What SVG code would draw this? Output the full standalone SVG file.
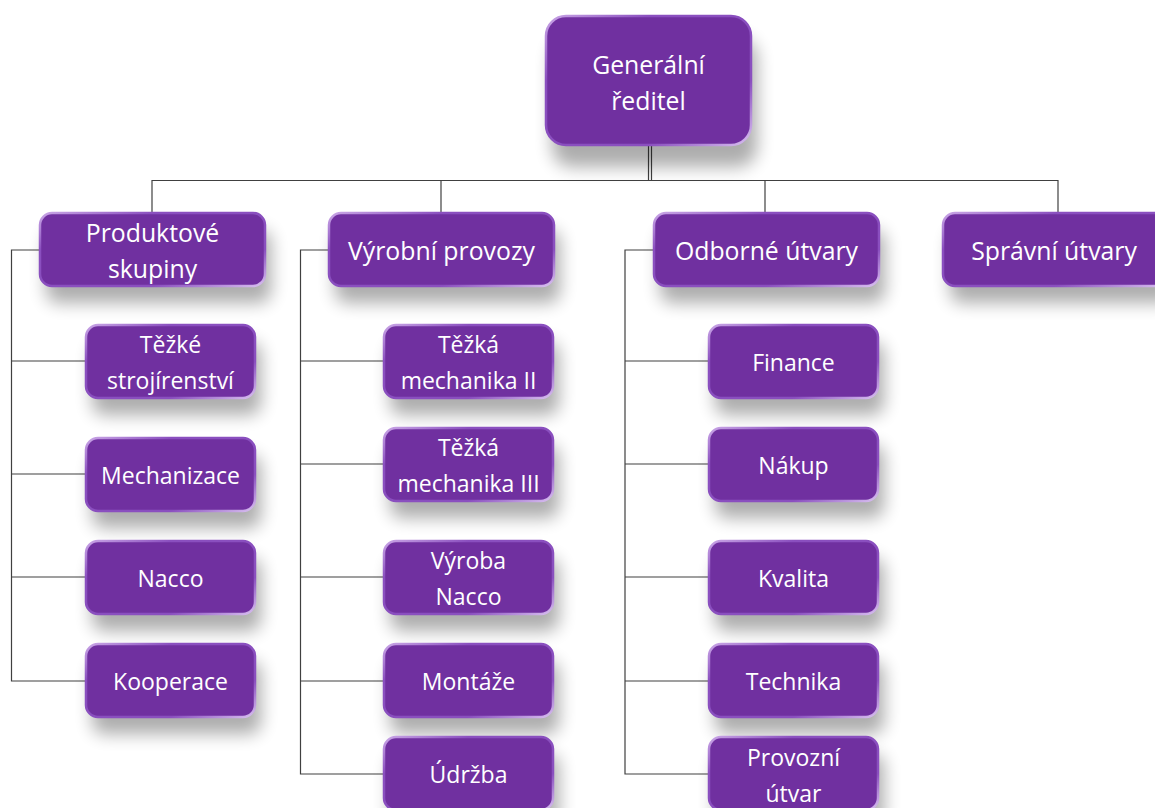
<svg xmlns="http://www.w3.org/2000/svg" width="1155" height="808" viewBox="0 0 1155 808">
  <defs>
    <filter id="shadow" x="-30%" y="-40%" width="160%" height="200%">
      <feGaussianBlur stdDeviation="8.5"/>
    </filter>
    <linearGradient id="edge" x1="0" y1="0" x2="1" y2="1">
      <stop offset="0" stop-color="#c9a6e6"/>
      <stop offset="0.25" stop-color="#8a4fbf"/>
      <stop offset="0.75" stop-color="#8a4fbf"/>
      <stop offset="1" stop-color="#d8bff0"/>
    </linearGradient>
  </defs>
  <style>
    .sh { fill: #000; opacity: 0.32; filter: url(#shadow); }
    .bx { fill: #7030A0; stroke: url(#edge); stroke-width: 2.5; }
    .t { fill: #ffffff; font-family: "Open Sans", "Liberation Sans", sans-serif; font-size: 23px; text-anchor: middle; dominant-baseline: central; }
    .big { font-size: 24.8px; }
    .c { stroke: #404040; stroke-width: 1.2; fill: none; }
  </style>
  <rect width="1155" height="808" fill="#ffffff"/>

  <!-- connectors -->
  <g id="connectors">
    <line class="c" x1="648.5" y1="145" x2="648.5" y2="180"/>
    <line class="c" x1="651.5" y1="145" x2="651.5" y2="180"/>
    <line class="c" x1="152" y1="180.5" x2="1058" y2="180.5"/>
    <line class="c" x1="152" y1="180" x2="152" y2="213"/>
    <line class="c" x1="441" y1="180" x2="441" y2="213"/>
    <line class="c" x1="765" y1="180" x2="765" y2="213"/>
    <line class="c" x1="1058" y1="180" x2="1058" y2="213"/>
    <!-- Produktové skupiny branch -->
    <path class="c" d="M40 250 H11.5 V681 H86 M11.5 361 H86 M11.5 474 H86 M11.5 577 H86"/>
    <!-- Výrobní provozy branch -->
    <path class="c" d="M329 250 H300.5 V774 H384 M300.5 361 H384 M300.5 464 H384 M300.5 577 H384 M300.5 681 H384"/>
    <!-- Odborné útvary branch -->
    <path class="c" d="M654 250 H625 V774 H709 M625 361 H709 M625 464 H709 M625 577 H709 M625 681 H709"/>
  </g>

  <!-- top -->
  <g id="gen">
    <rect class="sh" x="552" y="38" width="205" height="129" rx="20"/>
    <rect class="bx" x="546" y="16" width="205" height="129" rx="20"/>
    <text class="t big" x="648.5" y="64">Generální</text>
    <text class="t big" x="648.5" y="100">ředitel</text>
  </g>

  <!-- level 1 -->
  <g id="produktove">
    <rect class="sh" x="46" y="230" width="225" height="73" rx="12"/>
    <rect class="bx" x="40" y="213" width="225" height="73" rx="12"/>
    <text class="t big" x="152.5" y="232">Produktové</text>
    <text class="t big" x="152.5" y="268">skupiny</text>
  </g>
  <g id="vyrobni">
    <rect class="sh" x="335" y="230" width="225" height="73" rx="12"/>
    <rect class="bx" x="329" y="213" width="225" height="73" rx="12"/>
    <text class="t big" x="441.5" y="250">Výrobní provozy</text>
  </g>
  <g id="odborne">
    <rect class="sh" x="660" y="230" width="225" height="73" rx="12"/>
    <rect class="bx" x="654" y="213" width="225" height="73" rx="12"/>
    <text class="t big" x="766.5" y="250">Odborné útvary</text>
  </g>
  <g id="spravni">
    <rect class="sh" x="950" y="230" width="225" height="73" rx="12"/>
    <rect class="bx" x="943" y="213" width="225" height="73" rx="12"/>
    <text class="t big" x="1054" y="250">Správní útvary</text>
  </g>

  <!-- Produktové skupiny children -->
  <g id="tezke-strojirenstvi">
    <rect class="sh" x="92" y="342" width="169" height="73" rx="12"/>
    <rect class="bx" x="86" y="325" width="169" height="73" rx="12"/>
    <text class="t" x="170.5" y="344">Těžké</text>
    <text class="t" x="170.5" y="380">strojírenství</text>
  </g>
  <g id="mechanizace">
    <rect class="sh" x="92" y="455" width="169" height="73" rx="12"/>
    <rect class="bx" x="86" y="438" width="169" height="73" rx="12"/>
    <text class="t" x="170.5" y="474.5">Mechanizace</text>
  </g>
  <g id="nacco">
    <rect class="sh" x="92" y="558" width="169" height="73" rx="12"/>
    <rect class="bx" x="86" y="541" width="169" height="73" rx="12"/>
    <text class="t" x="170.5" y="577.5">Nacco</text>
  </g>
  <g id="kooperace">
    <rect class="sh" x="92" y="661" width="169" height="73" rx="12"/>
    <rect class="bx" x="86" y="644" width="169" height="73" rx="12"/>
    <text class="t" x="170.5" y="680.5">Kooperace</text>
  </g>

  <!-- Výrobní provozy children -->
  <g id="tezka-mechanika-2">
    <rect class="sh" x="390" y="342" width="169" height="73" rx="12"/>
    <rect class="bx" x="384" y="325" width="169" height="73" rx="12"/>
    <text class="t" x="468.5" y="344">Těžká</text>
    <text class="t" x="468.5" y="380">mechanika II</text>
  </g>
  <g id="tezka-mechanika-3">
    <rect class="sh" x="390" y="445" width="169" height="73" rx="12"/>
    <rect class="bx" x="384" y="428" width="169" height="73" rx="12"/>
    <text class="t" x="468.5" y="447">Těžká</text>
    <text class="t" x="468.5" y="483">mechanika III</text>
  </g>
  <g id="vyroba-nacco">
    <rect class="sh" x="390" y="558" width="169" height="73" rx="12"/>
    <rect class="bx" x="384" y="541" width="169" height="73" rx="12"/>
    <text class="t" x="468.5" y="560">Výroba</text>
    <text class="t" x="468.5" y="596">Nacco</text>
  </g>
  <g id="montaze">
    <rect class="sh" x="390" y="661" width="169" height="73" rx="12"/>
    <rect class="bx" x="384" y="644" width="169" height="73" rx="12"/>
    <text class="t" x="468.5" y="680.5">Montáže</text>
  </g>
  <g id="udrzba">
    <rect class="sh" x="390" y="754" width="169" height="73" rx="12"/>
    <rect class="bx" x="384" y="737" width="169" height="73" rx="12"/>
    <text class="t" x="468.5" y="774">Údržba</text>
  </g>

  <!-- Odborné útvary children -->
  <g id="finance">
    <rect class="sh" x="715" y="342" width="169" height="73" rx="12"/>
    <rect class="bx" x="709" y="325" width="169" height="73" rx="12"/>
    <text class="t" x="793.5" y="361.5">Finance</text>
  </g>
  <g id="nakup">
    <rect class="sh" x="715" y="445" width="169" height="73" rx="12"/>
    <rect class="bx" x="709" y="428" width="169" height="73" rx="12"/>
    <text class="t" x="793.5" y="464.5">Nákup</text>
  </g>
  <g id="kvalita">
    <rect class="sh" x="715" y="558" width="169" height="73" rx="12"/>
    <rect class="bx" x="709" y="541" width="169" height="73" rx="12"/>
    <text class="t" x="793.5" y="577.5">Kvalita</text>
  </g>
  <g id="technika">
    <rect class="sh" x="715" y="661" width="169" height="73" rx="12"/>
    <rect class="bx" x="709" y="644" width="169" height="73" rx="12"/>
    <text class="t" x="793.5" y="680.5">Technika</text>
  </g>
  <g id="provozni-utvar">
    <rect class="sh" x="715" y="754" width="169" height="73" rx="12"/>
    <rect class="bx" x="709" y="737" width="169" height="73" rx="12"/>
    <text class="t" x="793.5" y="757">Provozní</text>
    <text class="t" x="793.5" y="793">útvar</text>
  </g>
</svg>
